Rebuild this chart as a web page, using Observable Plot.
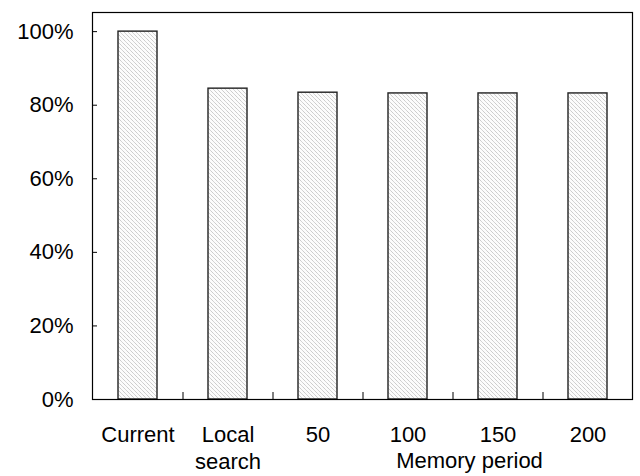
<!DOCTYPE html>
<html><head><meta charset="utf-8">
<script src="https://cdn.jsdelivr.net/npm/d3@7"></script>
<script src="https://cdn.jsdelivr.net/npm/@observablehq/plot@0.6"></script>
<style>body{margin:0;background:#fff}</style>
</head><body><div id="chart"></div>
<script>
const categories = ["Current", "Local search", "50", "100", "150", "200"];
const values = [100, 84.5, 83.4, 83.2, 83.2, 83.2];
const yTicks = [0, 20, 40, 60, 80, 100];
const groupLabel = "Memory period";

const data = categories.map((c, i) => ({cat: c, v: values[i]}));
const font = "Liberation Sans, Arial, sans-serif";

const plot = Plot.plot({
  width: 640, height: 476,
  marginLeft: 92, marginRight: 8, marginTop: 12, marginBottom: 77,
  style: {fontFamily: font, fontSize: "22px", color: "#000", background: "#fff"},
  x: {domain: categories, paddingInner: 0.57, paddingOuter: 0.285, label: null},
  y: {domain: [0, 105.2], label: null},
  marks: [
    Plot.barY(data, {x: "cat", y: "v", fill: "url(#hatch)", stroke: "#222", strokeWidth: 1.4}),
    Plot.ruleX(categories.slice(0, -1), {x: d => d, y1: 0, y2: 1.9, dx: 45, stroke: "#000"}),
    Plot.axisY({ticks: yTicks, tickSize: -5, text: null, label: null, stroke: "#000"}),
    Plot.axisY({ticks: yTicks, tickSize: 0, tickPadding: 19, tickFormat: d => d + "%", fontSize: 22, label: null}),
    Plot.axisX({tickSize: 0, tickPadding: 24, tickFormat: d => d === "Local search" ? "Local\nsearch" : d, fontSize: 22, lineHeight: 1.2, label: null}),
    Plot.text([groupLabel], {text: d => d, frameAnchor: "bottom", dx: 107, dy: 68, fontSize: 22, fill: "#000"}),
    Plot.frame({stroke: "#000", strokeWidth: 1.2})
  ]
});

const ns = "http://www.w3.org/2000/svg";
const defs = document.createElementNS(ns, "defs");
defs.innerHTML = '<pattern id="hatch" patternUnits="userSpaceOnUse" width="4" height="4">' +
  '<rect width="4" height="4" fill="#fcfcfc"/>' +
  '<path d="M-1,-1 L1,1 M0,0 L4,4 M3,3 L5,5" stroke="#cacaca" stroke-width="0.8"/></pattern>';
plot.insertBefore(defs, plot.firstChild);
document.getElementById("chart").appendChild(plot);
</script>
</body></html>
